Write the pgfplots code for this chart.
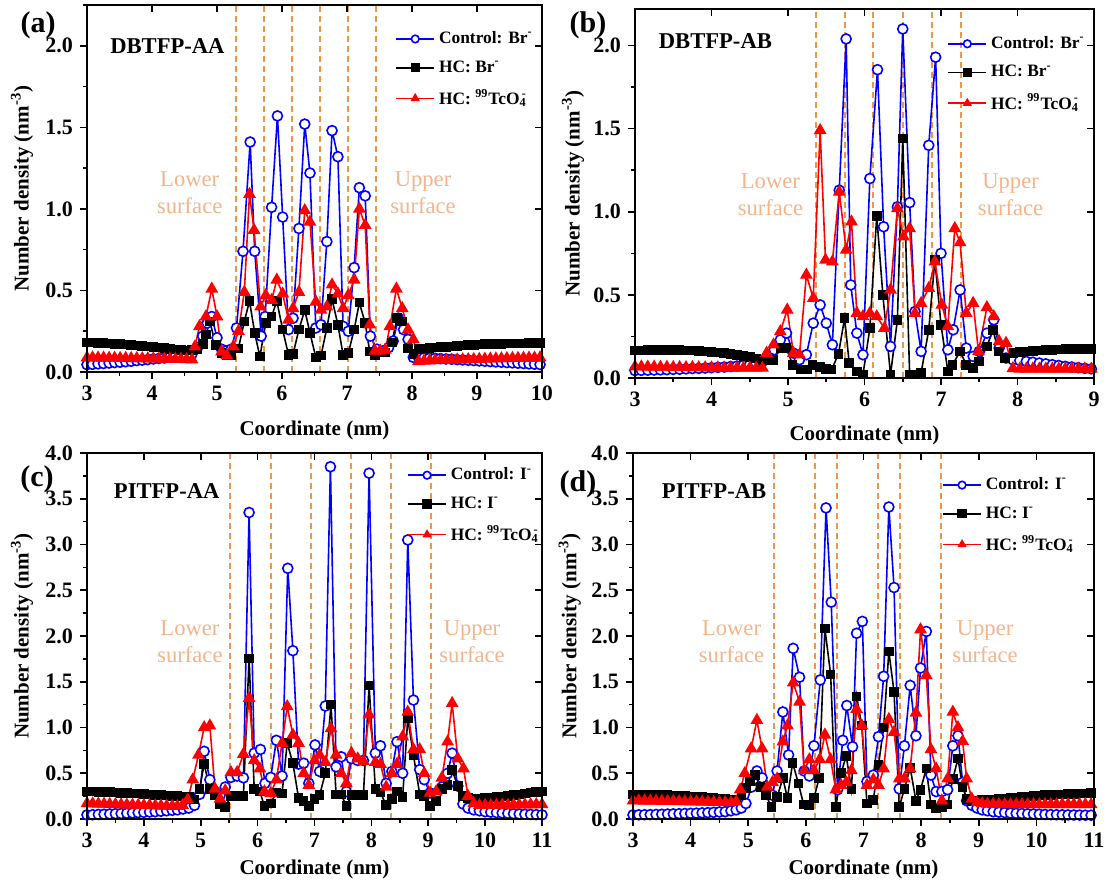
\documentclass[border=0pt]{standalone}
\usepackage{pgfplots}
\pgfplotsset{compat=1.18}
\usepackage{fontspec}
\setmainfont{Liberation Serif}
\definecolor{cblue}{RGB}{0,0,255}
\definecolor{cred}{RGB}{255,0,0}
\definecolor{dashc}{RGB}{240,150,75}
\definecolor{surf}{RGB}{243,180,140}
\pgfplotsset{
 base/.style={scale only axis, axis line style={line width=0.9pt},
   every tick/.style={black, line width=0.8pt},
   major tick length=3.5pt, minor tick length=2pt,
   xtick distance=1, ytick distance=0.5, ymin=0,
   ticklabel style={font=\bfseries\fontsize{11}{13}\selectfont},
   /pgf/number format/assume math mode=true,
   yticklabel style={/pgf/number format/.cd, fixed, fixed zerofill, precision=1}},
 mainax/.style={base, tick align=outside, tick pos=left,
   minor x tick num=1, minor y tick num=1,
   xlabel={Coordinate (nm)}, ylabel={Number density (nm\textsuperscript{-3})},
   label style={font=\bfseries\fontsize{10.5}{12}\selectfont},
   legend cell align=left,
   legend style={draw=none, fill=none, font=\bfseries\fontsize{8.7}{10}\selectfont,
     row sep=3pt, inner sep=0pt, anchor=north west},
   legend image code/.code={\draw[mark repeat=2,mark phase=2,mark size=1.9pt] plot coordinates {(0pt,0pt)(9.5pt,0pt)(19pt,0pt)};}},
 overax/.style={base, tick align=inside, tick pos=right, xticklabels={}, yticklabels={}, minor tick num=0},
 sblue/.style={color=cblue, line width=0.8pt, mark=*, mark size=2.5pt, mark options={solid, fill=white, draw=cblue, line width=0.8pt}},
 sblack/.style={color=black, line width=0.8pt, mark=square*, mark size=2pt, mark options={solid}},
 sred/.style={color=cred, line width=0.8pt, mark=triangle*, mark size=2.9pt, mark options={solid}},
}
\tikzset{
 vl/.style={dashc, dash pattern=on 3pt off 2pt, line width=1pt},
 surftxt/.style={text=surf, align=center, font=\fontsize{11.3}{13.5}\selectfont},
 ttl/.style={anchor=west, font=\bfseries\fontsize{11.3}{13}\selectfont},
}
\newcommand{\Tc}{\textsuperscript{99}TcO\textsubscript{4}\llap{\textsuperscript{-}}}
\begin{document}
\begin{tikzpicture}
% ---------------- (a)
\begin{axis}[mainax, at={(43.5pt,-186pt)}, anchor=south west, width=227.5pt, height=183.5pt,
  xmin=3, xmax=10, ymax=2.25,
  xlabel style={at={(axis description cs:0.5,-0.158)}, anchor=center},
  ylabel style={at={(axis description cs:-0.143,0.5)}, anchor=center},
  legend style={at={(axis description cs:0.677,0.94)}}]
\foreach \v in {5.29,5.72,6.16,6.58,7.01,7.44}{\edef\tmp{\noexpand\draw[vl] (axis cs:\v,0) -- (axis cs:\v,2.25);}\tmp}
\addplot[sblue] coordinates {(3.00,0.045)(3.085,0.047)(3.17,0.05)(3.255,0.052)(3.34,0.055)(3.425,0.058)(3.51,0.06)(3.595,0.063)(3.68,0.066)(3.765,0.07)(3.85,0.073)(3.935,0.076)(4.02,0.08)(4.105,0.083)(4.19,0.086)(4.275,0.09)(4.36,0.093)(4.445,0.096)(4.53,0.1)(4.615,0.11)(4.70,0.15)(4.78,0.22)(4.85,0.30)(4.92,0.34)(5.00,0.21)(5.07,0.14)(5.15,0.13)(5.22,0.14)(5.30,0.27)(5.40,0.74)(5.51,1.41)(5.58,0.74)(5.68,0.22)(5.74,0.34)(5.84,1.01)(5.93,1.57)(6.01,0.95)(6.10,0.26)(6.17,0.33)(6.26,0.88)(6.35,1.52)(6.43,1.22)(6.52,0.27)(6.60,0.29)(6.69,0.80)(6.77,1.48)(6.86,1.32)(6.94,0.28)(7.02,0.25)(7.11,0.64)(7.19,1.13)(7.28,1.08)(7.36,0.22)(7.46,0.14)(7.56,0.13)(7.64,0.15)(7.71,0.19)(7.79,0.33)(7.87,0.26)(7.94,0.20)(8.02,0.09)(8.10,0.088)(8.185,0.087)(8.27,0.085)(8.355,0.084)(8.44,0.082)(8.525,0.08)(8.61,0.078)(8.695,0.076)(8.78,0.074)(8.865,0.072)(8.95,0.07)(9.035,0.068)(9.12,0.066)(9.205,0.064)(9.29,0.062)(9.375,0.06)(9.46,0.058)(9.545,0.056)(9.63,0.054)(9.715,0.052)(9.80,0.05)(9.885,0.048)(9.97,0.046)};
\addlegendentry{Control: Br\textsuperscript{-}}
\addplot[sblack] coordinates {(3.00,0.18)(3.085,0.18)(3.17,0.178)(3.255,0.177)(3.34,0.175)(3.425,0.173)(3.51,0.17)(3.595,0.168)(3.68,0.165)(3.765,0.162)(3.85,0.16)(3.935,0.157)(4.02,0.153)(4.105,0.15)(4.19,0.146)(4.275,0.142)(4.36,0.138)(4.445,0.135)(4.53,0.133)(4.615,0.135)(4.70,0.14)(4.78,0.17)(4.83,0.23)(4.89,0.31)(4.98,0.165)(5.07,0.115)(5.15,0.105)(5.22,0.105)(5.33,0.145)(5.42,0.31)(5.50,0.435)(5.58,0.24)(5.66,0.094)(5.75,0.30)(5.84,0.34)(5.92,0.435)(6.01,0.26)(6.10,0.105)(6.17,0.11)(6.26,0.26)(6.35,0.38)(6.43,0.24)(6.52,0.09)(6.60,0.10)(6.69,0.27)(6.77,0.446)(6.86,0.29)(6.94,0.105)(7.02,0.115)(7.11,0.26)(7.19,0.425)(7.28,0.30)(7.35,0.125)(7.43,0.105)(7.51,0.12)(7.59,0.12)(7.69,0.18)(7.77,0.33)(7.85,0.31)(7.94,0.145)(8.02,0.11)(8.10,0.14)(8.185,0.145)(8.27,0.148)(8.355,0.15)(8.44,0.152)(8.525,0.155)(8.61,0.157)(8.695,0.16)(8.78,0.162)(8.865,0.164)(8.95,0.166)(9.035,0.168)(9.12,0.17)(9.205,0.171)(9.29,0.172)(9.375,0.173)(9.46,0.174)(9.545,0.175)(9.63,0.176)(9.715,0.176)(9.80,0.177)(9.885,0.177)(9.97,0.178)};
\addlegendentry{HC: Br\textsuperscript{-}}
\addplot[sred] coordinates {(3.00,0.088)(3.085,0.088)(3.17,0.087)(3.255,0.087)(3.34,0.086)(3.425,0.086)(3.51,0.085)(3.595,0.085)(3.68,0.084)(3.765,0.084)(3.85,0.083)(3.935,0.082)(4.02,0.082)(4.105,0.081)(4.19,0.08)(4.275,0.08)(4.36,0.079)(4.445,0.078)(4.53,0.077)(4.615,0.076)(4.66,0.155)(4.73,0.28)(4.83,0.34)(4.92,0.51)(5.00,0.34)(5.07,0.125)(5.15,0.10)(5.25,0.155)(5.33,0.25)(5.42,0.49)(5.50,1.09)(5.57,0.87)(5.67,0.40)(5.75,0.47)(5.84,0.44)(5.92,0.565)(6.01,0.48)(6.10,0.32)(6.17,0.39)(6.26,0.49)(6.35,0.99)(6.43,0.92)(6.52,0.43)(6.60,0.38)(6.69,0.40)(6.77,0.535)(6.86,0.48)(6.94,0.39)(7.02,0.47)(7.11,0.565)(7.19,1.0)(7.28,0.90)(7.35,0.29)(7.43,0.13)(7.51,0.13)(7.59,0.135)(7.66,0.28)(7.76,0.51)(7.85,0.39)(7.94,0.26)(8.02,0.2)(8.10,0.065)(8.185,0.068)(8.27,0.07)(8.355,0.071)(8.44,0.072)(8.525,0.073)(8.61,0.074)(8.695,0.075)(8.78,0.076)(8.865,0.077)(8.95,0.078)(9.035,0.079)(9.12,0.08)(9.205,0.081)(9.29,0.082)(9.375,0.083)(9.46,0.084)(9.545,0.085)(9.63,0.085)(9.715,0.086)(9.80,0.087)(9.885,0.087)(9.97,0.088)};
\addlegendentry{HC: \Tc}
\node[ttl] at (axis cs:3.25,2.0) {DBTFP-AA};
\node[surftxt] at (axis cs:4.58,1.10) {Lower\\surface};
\node[surftxt] at (axis cs:8.17,1.10) {Upper\\surface};
\end{axis}
\begin{axis}[overax, at={(43.5pt,-186pt)}, anchor=south west, width=227.5pt, height=183.5pt, xmin=3, xmax=10, ymax=2.25]
\end{axis}
% ---------------- (b)
\begin{axis}[mainax, at={(317.5pt,-189pt)}, anchor=south west, width=229.5pt, height=184.5pt,
  xmin=3, xmax=9, ymax=2.22,
  xlabel style={at={(axis description cs:0.5,-0.155)}, anchor=center},
  ylabel style={at={(axis description cs:-0.135,0.5)}, anchor=center},
  legend style={at={(axis description cs:0.68,0.938)}}]
\foreach \v in {5.36,5.74,6.11,6.50,6.88,7.26}{\edef\tmp{\noexpand\draw[vl] (axis cs:\v,0) -- (axis cs:\v,2.22);}\tmp}
\addplot[sblue] coordinates {(3.00,0.045)(3.083,0.046)(3.167,0.047)(3.25,0.048)(3.333,0.049)(3.417,0.05)(3.50,0.052)(3.583,0.053)(3.667,0.055)(3.75,0.057)(3.833,0.058)(3.917,0.06)(4.00,0.062)(4.083,0.064)(4.167,0.066)(4.25,0.069)(4.333,0.072)(4.417,0.076)(4.50,0.08)(4.583,0.09)(4.667,0.10)(4.74,0.12)(4.82,0.17)(4.90,0.23)(4.98,0.27)(5.07,0.15)(5.15,0.11)(5.24,0.14)(5.33,0.33)(5.42,0.44)(5.50,0.33)(5.58,0.20)(5.67,1.13)(5.76,2.04)(5.82,0.56)(5.90,0.27)(5.98,0.14)(6.07,1.20)(6.17,1.855)(6.25,0.91)(6.34,0.19)(6.43,1.03)(6.50,2.10)(6.59,1.055)(6.66,0.40)(6.74,0.16)(6.84,1.40)(6.93,1.93)(7.00,0.75)(7.09,0.17)(7.16,0.29)(7.25,0.53)(7.33,0.18)(7.42,0.13)(7.50,0.16)(7.60,0.27)(7.69,0.35)(7.76,0.18)(7.85,0.12)(7.94,0.11)(8.03,0.105)(8.115,0.10)(8.20,0.095)(8.285,0.09)(8.37,0.085)(8.455,0.08)(8.54,0.075)(8.625,0.07)(8.71,0.066)(8.795,0.062)(8.88,0.058)(8.965,0.055)};
\addlegendentry{Control: Br\textsuperscript{-}}
\addplot[sblack] coordinates {(3.00,0.165)(3.083,0.166)(3.167,0.167)(3.25,0.167)(3.333,0.168)(3.417,0.168)(3.50,0.168)(3.583,0.167)(3.667,0.166)(3.75,0.165)(3.833,0.163)(3.917,0.16)(4.00,0.157)(4.083,0.154)(4.167,0.15)(4.25,0.146)(4.333,0.14)(4.417,0.133)(4.50,0.125)(4.583,0.118)(4.667,0.11)(4.73,0.108)(4.81,0.11)(4.90,0.18)(4.98,0.18)(5.06,0.08)(5.17,0.05)(5.25,0.05)(5.32,0.08)(5.42,0.066)(5.50,0.055)(5.57,0.05)(5.66,0.145)(5.74,0.36)(5.80,0.09)(5.90,0.04)(5.98,0.02)(6.07,0.30)(6.16,0.975)(6.24,0.50)(6.34,0.02)(6.43,0.35)(6.50,1.44)(6.59,0.02)(6.66,0.02)(6.74,0.03)(6.84,0.29)(6.92,0.71)(7.00,0.32)(7.09,0.04)(7.15,0.08)(7.25,0.16)(7.33,0.08)(7.42,0.06)(7.50,0.10)(7.60,0.19)(7.68,0.29)(7.75,0.16)(7.84,0.12)(7.95,0.15)(8.03,0.155)(8.115,0.16)(8.20,0.162)(8.285,0.165)(8.37,0.168)(8.455,0.17)(8.54,0.172)(8.625,0.174)(8.71,0.175)(8.795,0.175)(8.88,0.174)(8.965,0.173)};
\addlegendentry{HC: Br\textsuperscript{-}}
\addplot[sred] coordinates {(3.00,0.068)(3.083,0.068)(3.167,0.067)(3.25,0.067)(3.333,0.066)(3.417,0.066)(3.50,0.065)(3.583,0.065)(3.667,0.064)(3.75,0.064)(3.833,0.063)(3.917,0.063)(4.00,0.062)(4.083,0.062)(4.167,0.061)(4.25,0.061)(4.333,0.06)(4.417,0.06)(4.50,0.06)(4.583,0.06)(4.667,0.06)(4.72,0.15)(4.81,0.20)(4.90,0.28)(4.99,0.41)(5.07,0.15)(5.15,0.14)(5.24,0.62)(5.33,0.48)(5.42,1.49)(5.49,0.71)(5.58,0.70)(5.67,1.12)(5.76,0.77)(5.83,0.94)(5.90,0.39)(5.98,0.37)(6.07,0.39)(6.16,0.37)(6.26,0.30)(6.34,0.53)(6.43,1.02)(6.51,0.85)(6.59,0.90)(6.66,0.39)(6.74,0.45)(6.84,0.54)(6.92,0.70)(7.01,0.44)(7.09,0.31)(7.18,0.90)(7.25,0.815)(7.33,0.39)(7.42,0.45)(7.49,0.16)(7.60,0.425)(7.69,0.37)(7.76,0.22)(7.85,0.21)(7.94,0.058)(8.03,0.055)(8.115,0.055)(8.20,0.055)(8.285,0.055)(8.37,0.055)(8.455,0.055)(8.54,0.055)(8.625,0.055)(8.71,0.055)(8.795,0.055)(8.88,0.055)(8.965,0.055)};
\addlegendentry{HC: \Tc}
\node[ttl] at (axis cs:3.22,2.03) {DBTFP-AB};
\node[surftxt] at (axis cs:4.77,1.10) {Lower\\surface};
\node[surftxt] at (axis cs:7.91,1.10) {Upper\\surface};
\end{axis}
\begin{axis}[overax, at={(317.5pt,-189pt)}, anchor=south west, width=229.5pt, height=184.5pt, xmin=3, xmax=9, ymax=2.22]
\end{axis}
% ---------------- (c)
\begin{axis}[mainax, at={(43.5pt,-409.5pt)}, anchor=south west, width=227.5pt, height=183pt,
  xmin=3, xmax=11, ymax=4,
  xlabel style={at={(axis description cs:0.5,-0.139)}, anchor=center},
  ylabel style={at={(axis description cs:-0.143,0.5)}, anchor=center},
  legend style={at={(axis description cs:0.703,0.972)}}]
\foreach \v in {5.52,6.23,6.94,7.64,8.34,9.05}{\edef\tmp{\noexpand\draw[vl] (axis cs:\v,0) -- (axis cs:\v,4);}\tmp}
\addplot[sblue] coordinates {(3.0,0.045)(3.1,0.047)(3.2,0.05)(3.3,0.052)(3.4,0.055)(3.5,0.058)(3.6,0.06)(3.7,0.063)(3.8,0.066)(3.9,0.07)(4.0,0.073)(4.1,0.077)(4.2,0.08)(4.3,0.085)(4.4,0.09)(4.5,0.095)(4.59,0.10)(4.69,0.11)(4.79,0.12)(4.89,0.15)(4.98,0.27)(5.06,0.74)(5.16,0.43)(5.25,0.30)(5.34,0.26)(5.43,0.35)(5.53,0.455)(5.64,0.47)(5.75,0.45)(5.85,3.35)(5.94,0.72)(6.05,0.76)(6.13,0.39)(6.23,0.455)(6.33,0.86)(6.43,0.47)(6.53,2.74)(6.62,1.84)(6.72,0.60)(6.81,0.61)(6.90,0.39)(7.01,0.81)(7.09,0.52)(7.19,1.235)(7.28,3.85)(7.38,0.57)(7.47,0.68)(7.56,0.30)(7.65,0.66)(7.76,0.64)(7.86,0.64)(7.96,3.78)(8.07,0.72)(8.16,0.80)(8.26,0.39)(8.36,0.52)(8.45,0.845)(8.55,0.50)(8.64,3.05)(8.74,1.30)(8.85,0.54)(8.93,0.43)(9.03,0.285)(9.14,0.28)(9.24,0.35)(9.34,0.50)(9.42,0.72)(9.52,0.36)(9.61,0.165)(9.70,0.12)(9.80,0.10)(9.90,0.09)(10.0,0.08)(10.1,0.075)(10.2,0.07)(10.3,0.066)(10.4,0.062)(10.5,0.058)(10.6,0.055)(10.7,0.052)(10.8,0.05)(10.9,0.048)(11.0,0.046)};
\addlegendentry{Control: I\textsuperscript{-}}
\addplot[sblack] coordinates {(3.0,0.30)(3.1,0.30)(3.2,0.298)(3.3,0.296)(3.4,0.294)(3.5,0.29)(3.6,0.287)(3.7,0.284)(3.8,0.28)(3.9,0.277)(4.0,0.273)(4.1,0.27)(4.2,0.265)(4.3,0.26)(4.4,0.255)(4.5,0.25)(4.59,0.25)(4.69,0.245)(4.79,0.24)(4.89,0.215)(4.98,0.33)(5.06,0.60)(5.16,0.33)(5.25,0.26)(5.34,0.16)(5.43,0.13)(5.53,0.25)(5.64,0.25)(5.75,0.25)(5.85,1.756)(5.94,0.33)(6.04,0.30)(6.12,0.14)(6.23,0.17)(6.33,0.29)(6.43,0.28)(6.52,0.83)(6.62,0.61)(6.72,0.23)(6.81,0.20)(6.90,0.14)(7.00,0.22)(7.09,0.26)(7.19,0.50)(7.29,1.25)(7.38,0.27)(7.47,0.27)(7.56,0.14)(7.65,0.26)(7.76,0.26)(7.86,0.26)(7.96,1.46)(8.07,0.33)(8.16,0.29)(8.26,0.15)(8.36,0.22)(8.45,0.30)(8.55,0.24)(8.64,1.10)(8.74,0.70)(8.85,0.27)(8.93,0.25)(9.03,0.14)(9.14,0.20)(9.24,0.33)(9.34,0.37)(9.42,0.535)(9.52,0.36)(9.61,0.25)(9.70,0.23)(9.80,0.22)(9.90,0.225)(10.0,0.23)(10.1,0.235)(10.2,0.24)(10.3,0.245)(10.4,0.25)(10.5,0.26)(10.6,0.27)(10.7,0.28)(10.8,0.29)(10.9,0.295)(11.0,0.30)};
\addlegendentry{HC: I\textsuperscript{-}}
\addplot[sred] coordinates {(3.0,0.17)(3.1,0.168)(3.2,0.166)(3.3,0.164)(3.4,0.162)(3.5,0.16)(3.6,0.158)(3.7,0.156)(3.8,0.154)(3.9,0.152)(4.0,0.15)(4.1,0.148)(4.2,0.146)(4.3,0.144)(4.4,0.142)(4.5,0.14)(4.59,0.14)(4.68,0.15)(4.77,0.21)(4.86,0.43)(4.96,0.70)(5.06,1.00)(5.16,1.02)(5.25,0.33)(5.34,0.22)(5.43,0.31)(5.53,0.51)(5.64,0.51)(5.75,0.71)(5.85,1.32)(5.94,0.64)(6.04,0.55)(6.12,0.30)(6.23,0.28)(6.33,0.43)(6.43,0.83)(6.52,1.23)(6.62,0.92)(6.72,0.83)(6.81,0.50)(6.90,0.37)(7.00,0.64)(7.09,0.70)(7.19,0.62)(7.29,0.99)(7.38,0.70)(7.47,0.50)(7.56,0.39)(7.65,0.72)(7.76,0.66)(7.86,0.63)(7.96,1.14)(8.07,0.62)(8.16,0.60)(8.26,0.35)(8.36,0.50)(8.45,0.60)(8.55,0.90)(8.64,1.17)(8.74,0.76)(8.85,0.76)(8.93,0.50)(9.03,0.285)(9.14,0.30)(9.24,0.45)(9.34,0.845)(9.42,1.265)(9.52,0.66)(9.62,0.55)(9.70,0.25)(9.80,0.17)(9.90,0.15)(10.0,0.15)(10.1,0.15)(10.2,0.152)(10.3,0.153)(10.4,0.154)(10.5,0.155)(10.6,0.156)(10.7,0.157)(10.8,0.158)(10.9,0.159)(11.0,0.16)};
\addlegendentry{HC: \Tc}
\node[ttl] at (axis cs:3.35,3.58) {PITFP-AA};
\node[surftxt] at (axis cs:4.81,1.94) {Lower\\surface};
\node[surftxt] at (axis cs:9.77,1.94) {Upper\\surface};
\end{axis}
\begin{axis}[overax, at={(43.5pt,-409.5pt)}, anchor=south west, width=227.5pt, height=183pt, xmin=3, xmax=11, ymax=4]
\end{axis}
% ---------------- (d)
\begin{axis}[mainax, at={(316.5pt,-409.5pt)}, anchor=south west, width=230.5pt, height=183pt,
  xmin=3, xmax=11, ymax=4,
  xlabel style={at={(axis description cs:0.5,-0.139)}, anchor=center},
  ylabel style={at={(axis description cs:-0.137,0.5)}, anchor=center},
  legend style={at={(axis description cs:0.670,0.945)}}]
\foreach \v in {5.45,6.15,6.54,7.26,7.64,8.35}{\edef\tmp{\noexpand\draw[vl] (axis cs:\v,0) -- (axis cs:\v,4);}\tmp}
\addplot[sblue] coordinates {(3.0,0.045)(3.1,0.046)(3.2,0.047)(3.3,0.048)(3.4,0.05)(3.5,0.052)(3.6,0.054)(3.7,0.056)(3.8,0.058)(3.9,0.06)(4.0,0.062)(4.1,0.064)(4.2,0.067)(4.3,0.07)(4.4,0.073)(4.5,0.077)(4.6,0.08)(4.7,0.09)(4.79,0.10)(4.88,0.12)(4.96,0.17)(5.06,0.35)(5.15,0.525)(5.24,0.45)(5.33,0.30)(5.42,0.26)(5.50,0.525)(5.60,1.17)(5.70,0.70)(5.78,1.865)(5.89,1.55)(5.97,0.525)(6.06,0.47)(6.14,0.80)(6.25,1.52)(6.35,3.40)(6.44,2.37)(6.55,0.32)(6.64,0.86)(6.71,1.24)(6.81,0.79)(6.88,2.03)(6.98,2.16)(7.06,0.41)(7.17,0.48)(7.26,0.90)(7.35,1.56)(7.44,3.41)(7.53,2.53)(7.62,0.33)(7.71,0.80)(7.81,1.46)(7.91,0.91)(7.99,1.65)(8.09,2.05)(8.17,0.48)(8.26,0.30)(8.36,0.30)(8.46,0.32)(8.55,0.80)(8.64,0.91)(8.72,0.40)(8.79,0.20)(8.88,0.15)(8.97,0.12)(9.06,0.10)(9.15,0.09)(9.25,0.08)(9.35,0.075)(9.45,0.07)(9.55,0.065)(9.65,0.062)(9.75,0.06)(9.85,0.057)(9.95,0.055)(10.05,0.052)(10.15,0.05)(10.25,0.048)(10.35,0.047)(10.45,0.046)(10.55,0.045)(10.65,0.044)(10.75,0.043)(10.85,0.042)(10.95,0.042)};
\addlegendentry{Control: I\textsuperscript{-}}
\addplot[sblack] coordinates {(3.0,0.27)(3.1,0.27)(3.2,0.268)(3.3,0.266)(3.4,0.264)(3.5,0.262)(3.6,0.26)(3.7,0.257)(3.8,0.254)(3.9,0.25)(4.0,0.247)(4.1,0.243)(4.2,0.24)(4.3,0.235)(4.4,0.23)(4.5,0.225)(4.6,0.22)(4.7,0.21)(4.79,0.21)(4.88,0.26)(4.96,0.34)(5.03,0.41)(5.12,0.48)(5.21,0.35)(5.31,0.26)(5.40,0.13)(5.50,0.24)(5.60,0.445)(5.68,0.23)(5.77,0.615)(5.87,0.39)(5.96,0.16)(6.05,0.15)(6.14,0.23)(6.23,0.445)(6.33,2.08)(6.43,1.58)(6.52,0.13)(6.61,0.50)(6.70,0.69)(6.79,0.33)(6.88,1.34)(6.97,1.02)(7.06,0.17)(7.17,0.21)(7.26,0.59)(7.35,1.00)(7.44,1.83)(7.53,1.39)(7.62,0.13)(7.71,0.33)(7.81,0.56)(7.91,0.20)(7.99,0.32)(8.09,0.55)(8.17,0.16)(8.26,0.12)(8.36,0.13)(8.46,0.16)(8.55,0.44)(8.64,0.66)(8.72,0.35)(8.79,0.22)(8.88,0.20)(8.97,0.20)(9.06,0.205)(9.15,0.21)(9.25,0.215)(9.35,0.22)(9.45,0.225)(9.55,0.23)(9.65,0.235)(9.75,0.24)(9.85,0.245)(9.95,0.25)(10.05,0.255)(10.15,0.26)(10.25,0.263)(10.35,0.266)(10.45,0.27)(10.55,0.272)(10.65,0.275)(10.75,0.277)(10.85,0.28)(10.95,0.282)};
\addlegendentry{HC: I\textsuperscript{-}}
\addplot[sred] coordinates {(3.0,0.20)(3.1,0.20)(3.2,0.199)(3.3,0.198)(3.4,0.197)(3.5,0.196)(3.6,0.195)(3.7,0.194)(3.8,0.193)(3.9,0.192)(4.0,0.19)(4.1,0.189)(4.2,0.188)(4.3,0.186)(4.4,0.185)(4.5,0.183)(4.6,0.182)(4.7,0.18)(4.79,0.19)(4.86,0.32)(4.94,0.50)(5.05,0.77)(5.15,1.08)(5.24,0.77)(5.33,0.35)(5.42,0.40)(5.50,0.44)(5.60,0.845)(5.68,1.02)(5.78,1.49)(5.89,1.28)(5.97,0.53)(6.06,0.65)(6.14,0.53)(6.24,0.65)(6.33,0.92)(6.43,0.65)(6.52,0.32)(6.61,0.37)(6.70,0.40)(6.79,0.53)(6.88,1.20)(6.97,1.02)(7.06,0.37)(7.17,0.43)(7.26,0.37)(7.35,0.55)(7.44,1.09)(7.53,0.95)(7.62,0.44)(7.71,0.44)(7.81,0.55)(7.91,1.16)(7.99,2.07)(8.09,1.57)(8.17,0.76)(8.26,0.55)(8.36,0.20)(8.46,0.44)(8.55,1.17)(8.64,1.00)(8.72,0.85)(8.79,0.44)(8.88,0.22)(8.97,0.18)(9.06,0.17)(9.15,0.165)(9.25,0.163)(9.35,0.162)(9.45,0.161)(9.55,0.16)(9.65,0.16)(9.75,0.16)(9.85,0.16)(9.95,0.16)(10.05,0.16)(10.15,0.16)(10.25,0.16)(10.35,0.16)(10.45,0.16)(10.55,0.16)(10.65,0.16)(10.75,0.16)(10.85,0.16)(10.95,0.16)};
\addlegendentry{HC: \Tc}
\node[ttl] at (axis cs:3.38,3.58) {PITFP-AB};
\node[surftxt] at (axis cs:4.71,1.94) {Lower\\surface};
\node[surftxt] at (axis cs:9.11,1.94) {Upper\\surface};
\end{axis}
\begin{axis}[overax, at={(316.5pt,-409.5pt)}, anchor=south west, width=230.5pt, height=183pt, xmin=3, xmax=11, ymax=4]
\end{axis}
% panel labels
\node[font=\bfseries\fontsize{15}{17}\selectfont] at (19pt,-12.5pt) {(a)};
\node[font=\bfseries\fontsize{15}{17}\selectfont] at (294pt,-12.5pt) {(b)};
\node[font=\bfseries\fontsize{15}{17}\selectfont] at (18.5pt,-239.5pt) {(c)};
\node[font=\bfseries\fontsize{15}{17}\selectfont] at (289pt,-242pt) {(d)};
\pgfresetboundingbox
\path[use as bounding box] (0pt,0pt) rectangle (552pt,-445pt);
\end{tikzpicture}
\end{document}
